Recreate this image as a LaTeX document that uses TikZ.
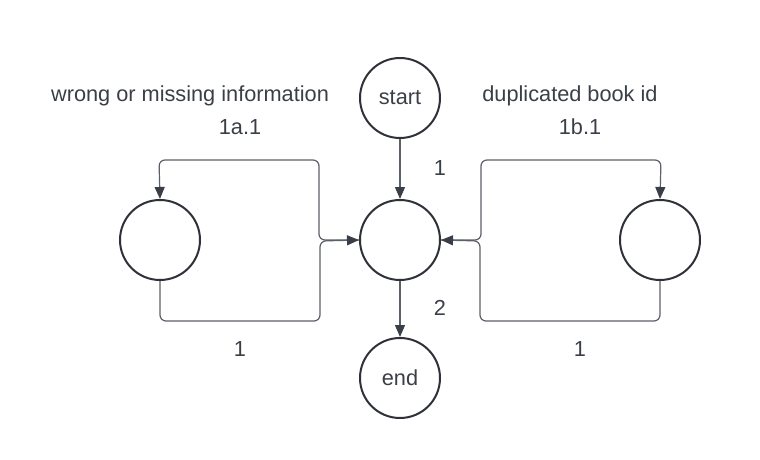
\documentclass[tikz,border=0pt]{standalone}
\usepackage{fontspec}
\setmainfont{Liberation Sans}
\usetikzlibrary{arrows.meta,positioning}

\definecolor{ink}{HTML}{2E3138}
\definecolor{wire}{HTML}{5C6068}
\definecolor{txt}{HTML}{3A3F47}

\tikzset{
  state/.style={draw=ink,line width=1.5pt,circle,minimum size=60pt,inner sep=0pt,font=\fontsize{16.3}{19}\selectfont,text=txt},
  link/.style={draw=wire,line width=0.9pt,rounded corners=4.5pt,-{Triangle[length=9pt,width=7.5pt,color=txt]},color=wire},
  lbl/.style={font=\fontsize{16.3}{19}\selectfont,text=txt,inner sep=0pt}
}

\begin{document}
\begin{tikzpicture}[x=0.75pt,y=-0.75pt]
\useasboundingbox (0,0) rectangle (760,460);
\node[state] (start) at (400,98) {start};
\node[state] (main) at (400,240) {};
\node[state] (alta) at (160,240) {};
\node[state] (altb) at (660,240) {};
\node[state] (finish) at (400,378) {end};
\draw[link] (start) -- (main);
\draw[link] (main) -- (finish);
\draw[link] (main.west) -- ++(-40,0) |- ++(-160,-80) -- (alta.north);
\draw[link] (alta.south) -- ++(0,40) -| ++(160,-80) -- (main.west);
\draw[link] (main.east) -- ++(40,0) |- ++(180,-80) -- (altb.north);
\draw[link] (altb.south) -- ++(0,40) -| ++(-180,-80) -- (main.east);
\node[lbl] (wrong) at (190,96) {wrong or missing information};
\node[lbl] (ida) at (240,127) {1a.1};
\node[lbl] (dup) at (570,96) {duplicated book id};
\node[lbl] (idb) at (580,127) {1b.1};
\node[lbl] (one) at (440,168) {1};
\node[lbl] (two) at (440,308) {2};
\node[lbl] (onea) at (240,349) {1};
\node[lbl] (oneb) at (580,349) {1};
\end{tikzpicture}
\end{document}
